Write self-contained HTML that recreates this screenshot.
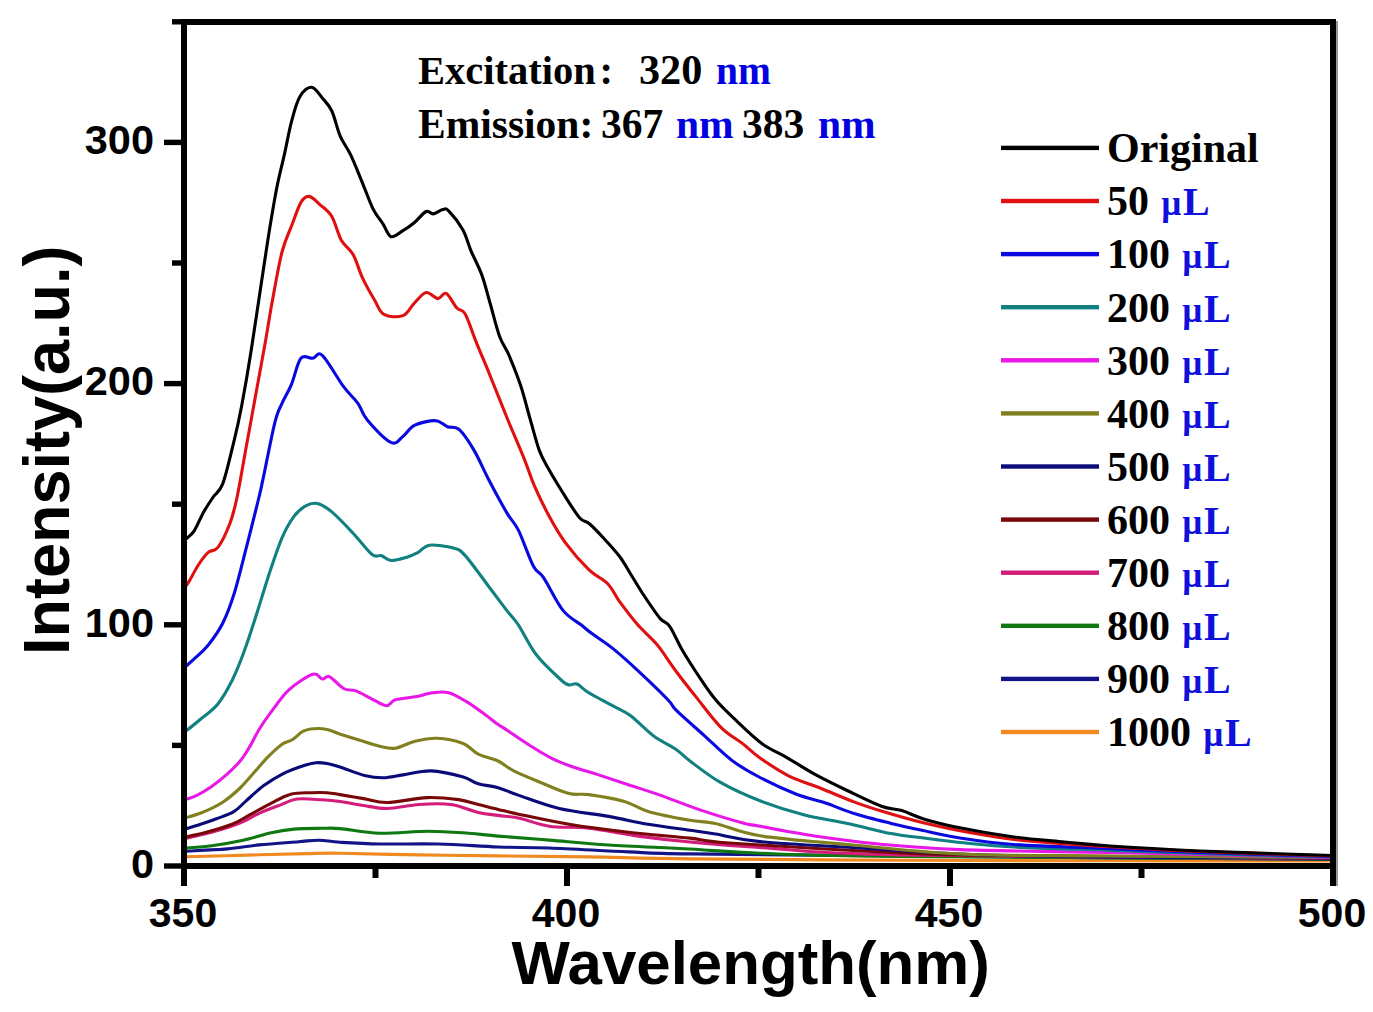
<!DOCTYPE html>
<html><head><meta charset="utf-8"><style>html,body{margin:0;padding:0;background:#fff;}body{width:1373px;height:1012px;overflow:hidden;}svg{display:block;}</style></head><body>
<svg width="1373" height="1012" viewBox="0 0 1373 1012">
<g fill="none" stroke-width="3.1" stroke-linejoin="round" stroke-linecap="round">
<path d="M184.7 856.8 C197.1 856.5 238.8 855.3 259.1 854.8 C279.4 854.3 293.0 853.9 306.5 853.6 C320.0 853.3 321.2 853.0 340.0 853.2 C358.8 853.4 392.6 854.5 419.0 854.9 C445.4 855.3 469.8 855.6 498.1 855.9 C526.4 856.2 556.8 856.4 588.8 856.9 C620.8 857.4 638.1 858.3 690.0 858.9 C741.9 859.5 830.0 859.9 900.0 860.2 C970.0 860.5 1037.8 860.7 1110.0 860.8 C1182.2 860.9 1295.8 861.0 1333.0 861.0" stroke="#f08a20"/>
<path d="M184.7 851.2 C191.8 850.8 215.0 850.0 227.4 848.9 C239.8 847.8 247.2 846.1 259.1 844.9 C271.0 843.7 288.6 842.5 298.6 841.7 C308.6 840.9 312.2 840.1 319.1 840.2 C326.0 840.3 329.9 841.7 340.0 842.3 C350.1 842.9 363.0 843.7 379.5 844.0 C396.0 844.3 419.0 843.5 438.8 844.0 C458.6 844.5 479.7 846.3 498.1 847.0 C516.5 847.7 527.6 847.2 549.3 848.0 C571.0 848.8 604.8 850.9 628.3 851.9 C651.8 852.9 644.7 853.2 690.0 853.9 C735.3 854.6 792.8 855.1 900.0 856.0 C1007.2 856.9 1260.8 858.9 1333.0 859.5" stroke="#14148a"/>
<path d="M184.7 848.1 C189.2 847.7 201.8 847.0 211.6 845.7 C221.3 844.4 233.4 842.3 243.2 840.2 C252.9 838.1 261.7 834.9 270.1 833.0 C278.5 831.1 285.1 829.9 293.8 829.1 C302.5 828.3 314.6 828.4 322.3 828.3 C330.0 828.2 330.5 827.8 340.0 828.6 C349.5 829.4 364.7 832.8 379.5 833.2 C394.3 833.6 414.1 831.2 428.9 831.2 C443.7 831.2 457.0 832.4 468.5 833.2 C480.0 834.0 484.6 835.0 498.1 836.1 C511.6 837.2 530.9 838.6 549.3 840.1 C567.7 841.6 585.1 843.5 608.6 845.0 C632.1 846.5 664.8 847.6 690.0 849.0 C715.2 850.4 725.0 852.0 760.0 853.3 C795.0 854.5 804.5 855.5 900.0 856.5 C995.5 857.5 1260.8 858.6 1333.0 859.0" stroke="#107810"/>
<path d="M184.7 838.5 C189.2 837.5 202.6 834.8 211.6 832.3 C220.6 829.8 230.6 826.8 238.5 823.6 C246.4 820.4 252.0 816.5 259.1 813.3 C266.2 810.1 274.9 807.0 281.2 804.6 C287.5 802.2 290.1 799.8 297.0 799.0 C303.9 798.2 315.1 799.4 322.3 799.8 C329.5 800.2 333.1 800.5 340.0 801.5 C346.9 802.5 355.8 804.3 363.7 805.5 C371.6 806.7 378.2 808.7 387.4 808.5 C396.6 808.3 408.6 805.2 419.1 804.5 C429.7 803.8 440.8 803.2 450.7 804.5 C460.6 805.8 470.4 810.6 478.3 812.4 C486.2 814.2 491.2 814.4 498.1 815.4 C505.0 816.4 511.1 816.5 519.6 818.3 C528.1 820.1 537.8 824.6 549.3 826.2 C560.8 827.9 574.0 826.6 588.8 828.2 C603.6 829.9 621.3 833.8 638.2 836.1 C655.1 838.4 669.7 840.1 690.0 842.0 C710.3 843.9 725.0 845.3 760.0 847.5 C795.0 849.7 804.5 853.2 900.0 855.0 C995.5 856.8 1260.8 857.9 1333.0 858.5" stroke="#d41c7a"/>
<path d="M184.7 837.0 C187.9 836.3 195.8 835.1 203.7 833.0 C211.6 830.9 224.5 827.3 232.2 824.3 C239.8 821.3 243.3 818.3 249.6 814.9 C255.9 811.5 263.2 807.2 270.1 803.8 C277.0 800.4 283.9 796.1 290.7 794.3 C297.5 792.4 305.1 793.0 311.2 792.7 C317.2 792.4 322.2 792.4 327.0 792.7 C331.8 793.0 333.9 793.6 340.0 794.6 C346.1 795.6 355.8 797.3 363.7 798.6 C371.6 799.9 376.8 802.7 387.4 802.5 C397.9 802.3 415.1 798.1 427.0 797.6 C438.9 797.1 450.1 798.5 458.6 799.6 C467.2 800.8 471.7 802.9 478.3 804.5 C484.9 806.1 491.2 807.8 498.1 809.4 C505.0 811.0 507.8 811.9 519.6 814.4 C531.4 816.9 551.0 821.3 569.1 824.3 C587.2 827.3 608.1 829.9 628.3 832.2 C648.4 834.5 673.2 836.3 690.0 838.1 C706.8 839.9 694.2 840.5 729.2 843.0 C764.2 845.5 854.9 850.9 900.0 853.0 C945.1 855.1 927.8 854.7 1000.0 855.5 C1072.2 856.3 1277.5 857.6 1333.0 858.0" stroke="#780808"/>
<path d="M184.7 829.1 C187.3 828.3 195.3 826.0 200.6 824.3 C205.9 822.6 210.9 820.9 216.4 818.8 C221.9 816.7 228.8 814.7 233.8 811.7 C238.8 808.7 241.4 805.0 246.4 800.6 C251.4 796.2 257.7 790.1 263.8 785.6 C269.9 781.1 276.2 777.1 282.8 773.8 C289.4 770.5 297.8 767.6 303.3 765.8 C308.8 763.9 312.1 763.1 316.0 762.7 C319.9 762.3 323.0 762.8 327.0 763.5 C331.0 764.2 333.6 765.0 340.0 767.0 C346.4 769.0 358.4 774.0 365.7 775.8 C372.9 777.6 377.2 777.9 383.5 777.8 C389.8 777.6 395.3 776.0 403.2 774.9 C411.1 773.8 421.0 770.6 430.9 770.9 C440.8 771.2 454.6 774.6 462.5 776.8 C470.4 778.9 472.4 782.0 478.3 783.8 C484.2 785.6 491.2 785.7 498.1 787.7 C505.0 789.7 509.4 792.1 519.6 795.6 C529.8 799.1 544.4 805.0 559.2 808.5 C574.0 812.0 593.8 813.8 608.6 816.4 C623.4 819.0 634.5 822.0 648.1 824.3 C661.7 826.6 678.8 828.6 690.0 830.2 C701.2 831.8 703.7 832.1 715.4 834.0 C727.1 835.9 735.6 839.2 760.0 841.6 C784.4 844.0 828.7 846.1 862.0 848.2 C895.3 850.3 920.3 852.5 960.0 854.0 C999.7 855.5 1037.8 856.3 1100.0 857.0 C1162.2 857.7 1294.2 857.8 1333.0 858.0" stroke="#0a0a78"/>
<path d="M184.7 818.0 C187.6 817.1 195.8 815.1 202.1 812.5 C208.4 809.9 216.4 806.3 222.7 802.2 C229.0 798.1 234.8 793.0 240.1 788.0 C245.4 783.0 249.6 777.5 254.3 772.2 C259.0 766.9 263.8 761.1 268.5 756.4 C273.2 751.6 278.8 746.5 282.8 743.7 C286.8 740.9 288.9 741.9 292.3 739.8 C295.7 737.7 299.6 733.0 303.3 731.1 C307.0 729.2 310.4 729.0 314.4 728.7 C318.3 728.4 322.8 728.6 327.0 729.5 C331.2 730.4 334.2 732.2 339.7 734.0 C345.2 735.8 353.2 738.3 359.8 740.3 C366.4 742.3 373.6 744.9 379.5 746.2 C385.4 747.5 389.4 749.0 395.3 748.2 C401.2 747.4 408.2 742.9 415.1 741.3 C422.0 739.6 428.9 738.0 436.8 738.3 C444.7 738.6 455.6 740.6 462.5 743.2 C469.4 745.8 472.4 751.1 478.3 754.1 C484.2 757.1 492.2 758.2 498.1 761.0 C504.0 763.8 506.5 767.3 513.7 770.9 C520.9 774.5 532.2 779.0 541.4 782.8 C550.6 786.6 561.2 791.6 569.1 793.6 C577.0 795.6 579.6 793.3 588.8 794.6 C598.0 795.9 614.5 798.7 624.4 801.5 C634.3 804.3 637.2 808.3 648.1 811.4 C659.0 814.5 678.8 818.3 690.0 820.3 C701.2 822.3 703.7 820.9 715.4 823.5 C727.1 826.1 738.0 832.3 760.0 835.8 C782.0 839.3 814.1 841.5 847.4 844.5 C880.7 847.5 917.9 852.1 960.0 854.0 C1002.1 855.9 1037.8 855.4 1100.0 856.0 C1162.2 856.6 1294.2 857.2 1333.0 857.5" stroke="#808020"/>
<path d="M184.7 799.8 C186.5 799.1 191.3 798.1 195.8 795.9 C200.3 793.7 206.3 790.1 211.6 786.4 C216.9 782.7 222.7 778.0 227.4 773.8 C232.2 769.6 236.4 765.6 240.1 761.1 C243.8 756.6 246.4 752.2 249.6 746.9 C252.8 741.6 255.7 735.1 259.1 729.5 C262.5 723.9 265.1 720.0 270.1 713.4 C275.1 706.8 282.0 696.2 289.1 689.7 C296.2 683.2 307.3 676.1 312.8 674.3 C318.3 672.5 319.5 678.6 322.3 679.0 C325.1 679.4 325.8 675.1 329.4 676.7 C332.9 678.3 339.2 686.1 343.6 688.5 C348.0 690.9 351.1 689.2 355.8 690.9 C360.5 692.6 366.5 696.3 371.6 698.8 C376.7 701.3 382.4 705.5 386.4 705.7 C390.3 705.9 390.5 701.3 395.3 699.8 C400.1 698.3 408.8 698.0 415.1 696.8 C421.4 695.6 427.3 693.5 432.9 692.8 C438.5 692.1 443.1 691.3 448.7 692.8 C454.3 694.3 460.9 698.4 466.5 701.7 C472.1 705.0 477.0 708.8 482.3 712.6 C487.6 716.4 494.2 721.7 498.1 724.5 C502.0 727.3 500.6 725.9 505.8 729.4 C511.0 732.9 521.9 740.4 529.5 745.2 C537.1 750.0 544.0 754.5 551.3 758.1 C558.5 761.7 565.1 764.2 573.0 767.0 C580.9 769.8 589.5 771.9 598.7 774.9 C607.9 777.9 618.1 781.3 628.3 784.7 C638.5 788.1 647.8 790.8 660.0 795.1 C672.2 799.4 687.7 805.8 701.5 810.4 C715.3 815.0 733.2 820.4 743.0 823.0 C752.8 825.6 747.5 824.0 760.0 826.3 C772.5 828.5 798.9 833.6 818.3 836.5 C837.7 839.4 852.9 841.6 876.5 843.8 C900.1 846.0 921.1 848.1 960.0 849.6 C998.9 851.1 1047.8 851.2 1110.0 852.5 C1172.2 853.8 1295.8 856.7 1333.0 857.5" stroke="#e818e8"/>
<path d="M184.7 732.0 C187.1 730.1 193.5 725.2 199.0 720.5 C204.5 715.8 212.4 710.6 217.9 703.9 C223.4 697.2 227.8 688.9 232.2 680.2 C236.5 671.5 240.1 662.5 244.0 651.8 C247.9 641.1 251.6 629.7 255.9 616.2 C260.2 602.8 265.8 584.2 270.1 571.1 C274.5 558.0 278.1 547.0 282.0 537.9 C285.9 528.8 289.9 521.9 293.8 516.6 C297.8 511.3 301.8 508.1 305.7 505.9 C309.6 503.7 313.1 502.6 317.5 503.6 C321.9 504.6 325.9 507.0 331.8 511.9 C337.7 516.8 346.4 526.1 353.1 533.2 C359.8 540.3 367.4 550.8 372.1 554.5 C376.9 558.2 378.5 554.7 381.6 555.7 C384.8 556.7 386.7 560.3 391.0 560.5 C395.3 560.7 403.1 558.2 407.6 556.9 C412.1 555.6 414.1 554.5 417.8 552.6 C421.5 550.7 423.7 546.0 429.6 545.2 C435.5 544.5 447.4 546.4 453.3 548.1 C459.2 549.8 459.3 549.2 465.2 555.6 C471.1 562.0 482.0 577.6 488.9 586.7 C495.8 595.8 501.8 604.0 506.7 610.4 C511.6 616.8 513.6 617.8 518.5 625.2 C523.4 632.6 529.2 645.7 536.3 654.8 C543.4 663.9 555.6 675.0 561.1 680.0 C566.6 685.0 566.5 684.2 569.1 684.9 C571.8 685.6 573.7 682.7 577.0 684.0 C580.3 685.3 582.9 689.2 588.8 692.8 C594.7 696.4 605.6 701.9 612.5 705.7 C619.4 709.5 623.4 710.5 630.3 715.6 C637.2 720.7 646.4 730.7 654.0 736.3 C661.6 741.9 669.8 745.1 675.8 749.2 C681.8 753.3 682.5 755.4 690.0 761.0 C697.5 766.6 709.2 776.1 720.9 782.7 C732.6 789.3 746.2 795.5 760.0 800.8 C773.8 806.1 789.1 810.9 803.7 814.7 C818.3 818.5 832.8 820.2 847.4 823.4 C862.0 826.5 878.7 831.2 891.1 833.6 C903.5 836.0 909.8 836.3 921.9 837.8 C934.0 839.3 948.4 841.3 963.8 842.8 C979.1 844.3 989.6 845.7 1014.0 847.0 C1038.4 848.3 1079.0 849.3 1110.0 850.4 C1141.0 851.5 1162.8 852.4 1200.0 853.5 C1237.2 854.6 1310.8 856.4 1333.0 857.0" stroke="#108080"/>
<path d="M184.7 667.2 C186.3 665.8 190.2 662.6 194.2 658.9 C198.2 655.1 203.8 650.6 208.5 644.7 C213.2 638.8 218.4 632.0 222.7 623.3 C227.0 614.6 230.6 605.1 234.5 592.5 C238.4 579.9 242.4 562.8 246.4 547.4 C250.4 532.0 255.5 511.4 258.3 500.0 C261.1 488.6 260.2 492.1 263.0 479.2 C265.8 466.2 271.7 434.9 274.9 422.3 C278.1 409.7 279.2 409.6 282.0 403.3 C284.8 397.0 288.4 391.8 291.5 384.3 C294.6 376.8 297.3 362.6 300.9 358.3 C304.4 354.0 309.2 358.8 312.8 358.3 C316.4 357.8 317.2 350.7 322.3 355.4 C327.4 360.1 337.7 378.7 343.6 386.7 C349.5 394.7 353.9 397.8 357.9 403.3 C361.8 408.8 361.8 413.4 367.3 419.9 C372.8 426.4 385.1 439.6 391.0 442.4 C396.9 445.2 398.9 439.4 402.9 436.5 C406.9 433.6 409.4 427.8 414.8 425.2 C420.2 422.6 430.2 420.4 435.6 420.7 C441.0 420.9 443.4 425.2 447.4 426.7 C451.3 428.2 454.9 425.7 459.3 429.6 C463.8 433.6 469.2 442.0 474.1 450.4 C479.0 458.8 483.5 469.6 488.9 480.0 C494.3 490.4 501.8 504.2 506.7 512.6 C511.6 521.0 514.1 521.5 518.5 530.4 C522.9 539.3 529.1 558.0 533.3 565.9 C537.5 573.8 538.8 570.5 543.7 577.9 C548.7 585.3 556.7 602.5 563.0 610.4 C569.3 618.3 576.8 621.3 581.7 625.3 C586.6 629.2 587.3 630.2 592.6 634.1 C597.9 638.0 605.4 642.5 613.3 648.9 C621.2 655.3 630.9 664.1 640.0 672.6 C649.1 681.1 661.8 693.4 667.9 699.8 C674.0 706.1 670.5 704.7 676.6 710.7 C682.7 716.7 695.1 727.3 704.3 735.6 C713.5 743.9 722.7 753.5 732.0 760.5 C741.3 767.5 749.3 771.9 760.0 777.5 C770.7 783.1 785.5 790.0 796.4 794.3 C807.3 798.5 816.0 799.9 825.5 803.0 C835.0 806.1 842.3 809.8 853.2 813.2 C864.1 816.6 879.7 820.5 891.1 823.4 C902.5 826.2 910.4 827.9 921.9 830.3 C933.4 832.7 944.6 835.6 960.0 838.0 C975.4 840.4 989.0 842.7 1014.0 844.5 C1039.0 846.3 1079.0 847.4 1110.0 848.7 C1141.0 850.0 1162.8 851.2 1200.0 852.5 C1237.2 853.8 1310.8 855.8 1333.0 856.5" stroke="#0a0ae0"/>
<path d="M184.7 587.7 C185.5 586.5 187.1 584.6 189.5 580.6 C191.9 576.6 195.8 568.7 199.0 564.0 C202.2 559.3 205.3 555.0 208.5 552.2 C211.7 549.4 214.3 552.1 217.9 547.4 C221.5 542.6 226.6 531.9 229.8 523.7 C233.0 515.5 234.1 510.9 236.9 498.0 C239.7 485.1 243.2 463.4 246.4 446.0 C249.6 428.6 252.7 411.2 255.9 393.8 C259.1 376.4 262.6 357.3 265.4 341.7 C268.2 326.1 269.7 314.9 272.5 300.0 C275.3 285.1 278.8 264.3 282.0 252.0 C285.2 239.7 288.3 234.3 291.5 226.0 C294.7 217.7 298.1 207.2 301.0 202.3 C303.9 197.4 306.1 196.0 309.2 196.4 C312.3 196.8 316.1 201.2 319.9 204.6 C323.7 207.9 328.2 210.6 331.8 216.5 C335.4 222.4 337.8 233.9 341.3 240.2 C344.9 246.5 349.6 248.2 353.1 254.5 C356.7 260.8 359.0 270.6 362.6 278.2 C366.2 285.8 370.9 294.0 374.5 300.0 C378.1 306.0 379.2 311.8 383.9 314.4 C388.6 317.0 397.8 317.5 402.9 315.6 C407.9 313.8 410.3 307.1 414.2 303.3 C418.1 299.5 422.2 293.4 426.1 292.6 C430.1 291.8 434.5 298.5 437.9 298.6 C441.2 298.7 443.0 291.8 446.2 293.4 C449.4 295.0 453.7 304.6 456.9 308.0 C460.1 311.4 462.0 308.4 465.2 314.0 C468.4 319.6 472.1 332.0 475.9 341.3 C479.6 350.6 484.1 361.0 487.7 369.7 C491.2 378.4 493.8 385.0 497.2 393.4 C500.6 401.8 503.4 409.0 507.9 420.0 C512.4 431.0 520.0 448.4 524.4 459.3 C528.8 470.2 530.2 476.1 534.2 485.4 C538.2 494.7 543.4 505.5 548.5 515.0 C553.6 524.5 558.4 533.2 565.1 542.3 C571.8 551.4 581.7 562.7 588.8 569.6 C595.9 576.5 602.6 578.5 607.7 583.8 C612.8 589.1 614.9 595.1 619.6 601.6 C624.4 608.1 630.7 616.5 636.2 622.9 C641.7 629.3 648.8 635.8 652.8 640.0 C656.8 644.2 656.0 643.1 660.0 648.4 C664.0 653.7 670.6 663.9 676.6 672.0 C682.6 680.1 688.6 687.7 696.0 696.9 C703.4 706.1 713.1 719.5 720.9 727.3 C728.7 735.1 736.5 738.8 743.0 743.9 C749.5 749.0 752.3 752.5 760.0 757.9 C767.7 763.3 778.9 771.0 789.1 776.1 C799.3 781.2 810.5 784.2 821.2 788.5 C831.9 792.8 842.8 797.7 853.2 801.6 C863.6 805.5 872.6 808.4 883.8 811.8 C895.0 815.2 907.5 818.9 920.2 822.0 C932.9 825.1 944.4 827.8 960.0 830.7 C975.6 833.6 996.6 837.3 1014.0 839.5 C1031.4 841.7 1048.3 842.5 1064.3 843.7 C1080.3 844.9 1087.4 845.5 1110.0 846.8 C1132.6 848.1 1162.8 850.0 1200.0 851.5 C1237.2 853.0 1310.8 855.2 1333.0 856.0" stroke="#e01010"/>
<path d="M184.7 540.0 C184.9 539.9 184.3 540.6 185.9 539.1 C187.5 537.6 191.2 535.3 194.2 530.8 C197.2 526.3 200.5 517.5 203.7 511.9 C206.9 506.3 210.0 501.7 213.2 497.0 C216.4 492.3 219.3 492.8 222.7 483.9 C226.1 475.0 230.2 456.6 233.4 443.6 C236.6 430.6 238.8 421.1 241.7 405.7 C244.6 390.3 247.8 372.1 251.1 351.1 C254.4 330.2 258.6 300.9 261.8 280.0 C265.0 259.1 267.5 241.7 270.1 226.0 C272.7 210.3 274.8 197.5 277.2 185.7 C279.6 173.8 281.9 165.6 284.3 154.9 C286.7 144.2 288.9 131.4 291.5 121.7 C294.1 112.0 296.4 102.5 299.8 96.8 C303.2 91.1 307.9 87.1 311.6 87.3 C315.4 87.5 318.9 94.0 322.3 97.9 C325.7 101.9 328.8 104.7 331.8 111.0 C334.8 117.3 337.0 128.6 340.1 135.9 C343.2 143.2 346.9 147.0 350.7 154.9 C354.4 162.8 358.8 174.2 362.6 183.3 C366.4 192.4 369.9 202.7 373.3 209.4 C376.7 216.1 379.9 219.1 382.8 223.6 C385.8 228.1 387.6 235.5 391.0 236.7 C394.4 237.9 399.0 233.0 402.9 230.7 C406.8 228.4 410.3 225.9 414.2 222.7 C418.1 219.5 422.9 213.0 426.1 211.5 C429.3 210.0 430.4 214.2 433.2 213.9 C436.0 213.6 440.1 210.1 442.7 209.6 C445.3 209.1 445.2 207.4 448.6 210.8 C452.0 214.2 459.1 223.1 462.8 229.8 C466.6 236.5 467.9 243.6 471.1 251.1 C474.3 258.6 478.6 266.2 481.8 274.9 C485.0 283.6 487.1 293.0 490.1 303.3 C493.1 313.6 496.4 327.8 499.6 336.5 C502.8 345.2 505.6 347.2 509.1 355.5 C512.6 363.8 517.4 375.6 520.9 386.3 C524.4 397.1 527.3 409.3 530.4 420.0 C533.5 430.7 536.3 442.3 539.3 450.4 C542.3 458.5 544.6 461.8 548.5 468.8 C552.4 475.8 557.6 484.4 562.7 492.5 C567.8 500.6 574.9 512.3 579.3 517.4 C583.6 522.5 584.8 519.9 588.8 523.3 C592.8 526.6 597.9 532.0 603.0 537.5 C608.1 543.0 614.9 550.2 619.6 556.5 C624.4 562.8 627.5 569.2 631.5 575.5 C635.5 581.8 638.6 587.4 643.3 594.5 C648.0 601.6 655.5 612.9 659.9 618.2 C664.3 623.5 666.0 621.0 669.7 626.3 C673.4 631.6 677.7 642.2 682.1 649.8 C686.5 657.4 690.5 663.7 696.0 672.0 C701.5 680.3 708.5 691.3 715.4 699.6 C722.3 707.9 729.7 714.4 737.5 721.8 C745.3 729.2 754.1 737.9 762.4 743.9 C770.7 749.9 778.5 752.7 787.3 757.8 C796.1 762.9 804.9 768.9 815.0 774.4 C825.1 779.9 837.1 785.7 848.2 791.0 C859.3 796.3 872.5 802.9 881.4 806.2 C890.3 809.5 894.5 808.4 901.8 810.6 C909.1 812.8 914.9 816.4 925.2 819.4 C935.5 822.4 949.0 825.7 963.8 828.6 C978.6 831.5 997.2 834.8 1014.0 837.0 C1030.8 839.2 1048.3 840.5 1064.3 842.0 C1080.3 843.5 1087.4 844.5 1110.0 846.0 C1132.6 847.5 1162.8 849.4 1200.0 851.0 C1237.2 852.6 1310.8 854.8 1333.0 855.5" stroke="#000000"/>
</g>
<g fill="#000">
<rect x="181" y="19" width="1155" height="6"/>
<rect x="181" y="863" width="1155" height="6"/>
<rect x="181" y="19" width="6" height="867"/>
<rect x="1330" y="19" width="6" height="867"/>
<rect x="1336" y="21" width="2" height="865" fill="#999"/>
<rect x="164.0" y="863.3" width="17" height="5.4"/><rect x="172.0" y="742.7" width="9" height="5.4"/><rect x="164.0" y="622.1" width="17" height="5.4"/><rect x="172.0" y="501.5" width="9" height="5.4"/><rect x="164.0" y="380.9" width="17" height="5.4"/><rect x="172.0" y="260.3" width="9" height="5.4"/><rect x="164.0" y="139.7" width="17" height="5.4"/><rect x="172.0" y="19.1" width="9" height="5.4"/><rect x="181.0" y="869" width="6" height="17"/><rect x="372.5" y="869" width="6" height="9"/><rect x="564.0" y="869" width="6" height="17"/><rect x="755.5" y="869" width="6" height="9"/><rect x="947.0" y="869" width="6" height="17"/><rect x="1138.5" y="869" width="6" height="9"/><rect x="1330.0" y="869" width="6" height="17"/>
</g>
<rect x="1001" y="145.7" width="98" height="4.4" fill="#000000"/>
<rect x="1001" y="198.8" width="98" height="4.4" fill="#e01010"/>
<rect x="1001" y="251.9" width="98" height="4.4" fill="#0a0ae0"/>
<rect x="1001" y="305.0" width="98" height="4.4" fill="#108080"/>
<rect x="1001" y="358.1" width="98" height="4.4" fill="#e818e8"/>
<rect x="1001" y="411.2" width="98" height="4.4" fill="#808020"/>
<rect x="1001" y="464.3" width="98" height="4.4" fill="#0a0a78"/>
<rect x="1001" y="517.4" width="98" height="4.4" fill="#780808"/>
<rect x="1001" y="570.5" width="98" height="4.4" fill="#d41c7a"/>
<rect x="1001" y="623.6" width="98" height="4.4" fill="#107810"/>
<rect x="1001" y="676.7" width="98" height="4.4" fill="#14148a"/>
<rect x="1001" y="729.8" width="98" height="4.4" fill="#f08a20"/>
<text x="154.0" y="877.8" font-family="Liberation Sans" font-weight="bold" font-size="41.5" text-anchor="end">0</text>
<text x="154.0" y="636.6" font-family="Liberation Sans" font-weight="bold" font-size="41.5" text-anchor="end">100</text>
<text x="154.0" y="395.4" font-family="Liberation Sans" font-weight="bold" font-size="41.5" text-anchor="end">200</text>
<text x="154.0" y="154.2" font-family="Liberation Sans" font-weight="bold" font-size="41.5" text-anchor="end">300</text>
<text x="183.0" y="927.2" font-family="Liberation Sans" font-weight="bold" font-size="41" text-anchor="middle">350</text>
<text x="566.0" y="927.2" font-family="Liberation Sans" font-weight="bold" font-size="41" text-anchor="middle">400</text>
<text x="949.0" y="927.2" font-family="Liberation Sans" font-weight="bold" font-size="41" text-anchor="middle">450</text>
<text x="1332.0" y="927.2" font-family="Liberation Sans" font-weight="bold" font-size="41" text-anchor="middle">500</text>
<text x="511.5" y="984.4" font-family="Liberation Sans" font-weight="bold" font-size="61.8">Wavelength(nm)</text>
<text transform="translate(69,655) rotate(-90) scale(1,1.03)" font-family="Liberation Sans" font-weight="bold" font-size="63">Intensity(a.u.)</text>
<text x="418" y="84.2" font-family="Liberation Serif" font-weight="bold" font-size="40.5" fill="#000">Excitation</text>
<text x="599.5" y="84.2" font-family="Liberation Serif" font-weight="bold" font-size="40.5" fill="#000">:</text>
<text x="639" y="84.2" font-family="Liberation Serif" font-weight="bold" font-size="42.2" fill="#000">320</text>
<text x="716" y="84.2" font-family="Liberation Serif" font-weight="bold" font-size="39.5" fill="#0000e0">nm</text>
<text x="418" y="137.6" font-family="Liberation Serif" font-weight="bold" font-size="41.5" fill="#000">Emission:</text>
<text x="601" y="137.6" font-family="Liberation Serif" font-weight="bold" font-size="41.5" fill="#000">367</text>
<text x="676" y="137.6" font-family="Liberation Serif" font-weight="bold" font-size="41.5" fill="#0000e0">nm</text>
<text x="742" y="137.6" font-family="Liberation Serif" font-weight="bold" font-size="41.5" fill="#000">383</text>
<text x="818" y="137.6" font-family="Liberation Serif" font-weight="bold" font-size="41.5" fill="#0000e0">nm</text>
<text x="1107" y="162.2" font-family="Liberation Serif" font-weight="bold" font-size="42">Original</text>
<text x="1107" y="215.3" font-family="Liberation Serif" font-weight="bold" font-size="42">50</text>
<text x="1161.2" y="215.3" font-family="Liberation Serif" font-weight="bold" font-size="35" fill="#1010dc">µ</text>
<text x="1182.9" y="215.3" font-family="Liberation Serif" font-weight="bold" font-size="40" fill="#1010dc">L</text>
<text x="1107" y="268.4" font-family="Liberation Serif" font-weight="bold" font-size="42">100</text>
<text x="1182.2" y="268.4" font-family="Liberation Serif" font-weight="bold" font-size="35" fill="#1010dc">µ</text>
<text x="1203.9" y="268.4" font-family="Liberation Serif" font-weight="bold" font-size="40" fill="#1010dc">L</text>
<text x="1107" y="321.5" font-family="Liberation Serif" font-weight="bold" font-size="42">200</text>
<text x="1182.2" y="321.5" font-family="Liberation Serif" font-weight="bold" font-size="35" fill="#1010dc">µ</text>
<text x="1203.9" y="321.5" font-family="Liberation Serif" font-weight="bold" font-size="40" fill="#1010dc">L</text>
<text x="1107" y="374.6" font-family="Liberation Serif" font-weight="bold" font-size="42">300</text>
<text x="1182.2" y="374.6" font-family="Liberation Serif" font-weight="bold" font-size="35" fill="#1010dc">µ</text>
<text x="1203.9" y="374.6" font-family="Liberation Serif" font-weight="bold" font-size="40" fill="#1010dc">L</text>
<text x="1107" y="427.7" font-family="Liberation Serif" font-weight="bold" font-size="42">400</text>
<text x="1182.2" y="427.7" font-family="Liberation Serif" font-weight="bold" font-size="35" fill="#1010dc">µ</text>
<text x="1203.9" y="427.7" font-family="Liberation Serif" font-weight="bold" font-size="40" fill="#1010dc">L</text>
<text x="1107" y="480.8" font-family="Liberation Serif" font-weight="bold" font-size="42">500</text>
<text x="1182.2" y="480.8" font-family="Liberation Serif" font-weight="bold" font-size="35" fill="#1010dc">µ</text>
<text x="1203.9" y="480.8" font-family="Liberation Serif" font-weight="bold" font-size="40" fill="#1010dc">L</text>
<text x="1107" y="533.9" font-family="Liberation Serif" font-weight="bold" font-size="42">600</text>
<text x="1182.2" y="533.9" font-family="Liberation Serif" font-weight="bold" font-size="35" fill="#1010dc">µ</text>
<text x="1203.9" y="533.9" font-family="Liberation Serif" font-weight="bold" font-size="40" fill="#1010dc">L</text>
<text x="1107" y="587.0" font-family="Liberation Serif" font-weight="bold" font-size="42">700</text>
<text x="1182.2" y="587.0" font-family="Liberation Serif" font-weight="bold" font-size="35" fill="#1010dc">µ</text>
<text x="1203.9" y="587.0" font-family="Liberation Serif" font-weight="bold" font-size="40" fill="#1010dc">L</text>
<text x="1107" y="640.1" font-family="Liberation Serif" font-weight="bold" font-size="42">800</text>
<text x="1182.2" y="640.1" font-family="Liberation Serif" font-weight="bold" font-size="35" fill="#1010dc">µ</text>
<text x="1203.9" y="640.1" font-family="Liberation Serif" font-weight="bold" font-size="40" fill="#1010dc">L</text>
<text x="1107" y="693.2" font-family="Liberation Serif" font-weight="bold" font-size="42">900</text>
<text x="1182.2" y="693.2" font-family="Liberation Serif" font-weight="bold" font-size="35" fill="#1010dc">µ</text>
<text x="1203.9" y="693.2" font-family="Liberation Serif" font-weight="bold" font-size="40" fill="#1010dc">L</text>
<text x="1107" y="746.3" font-family="Liberation Serif" font-weight="bold" font-size="42">1000</text>
<text x="1203.2" y="746.3" font-family="Liberation Serif" font-weight="bold" font-size="35" fill="#1010dc">µ</text>
<text x="1224.9" y="746.3" font-family="Liberation Serif" font-weight="bold" font-size="40" fill="#1010dc">L</text>
</svg>
</body></html>
